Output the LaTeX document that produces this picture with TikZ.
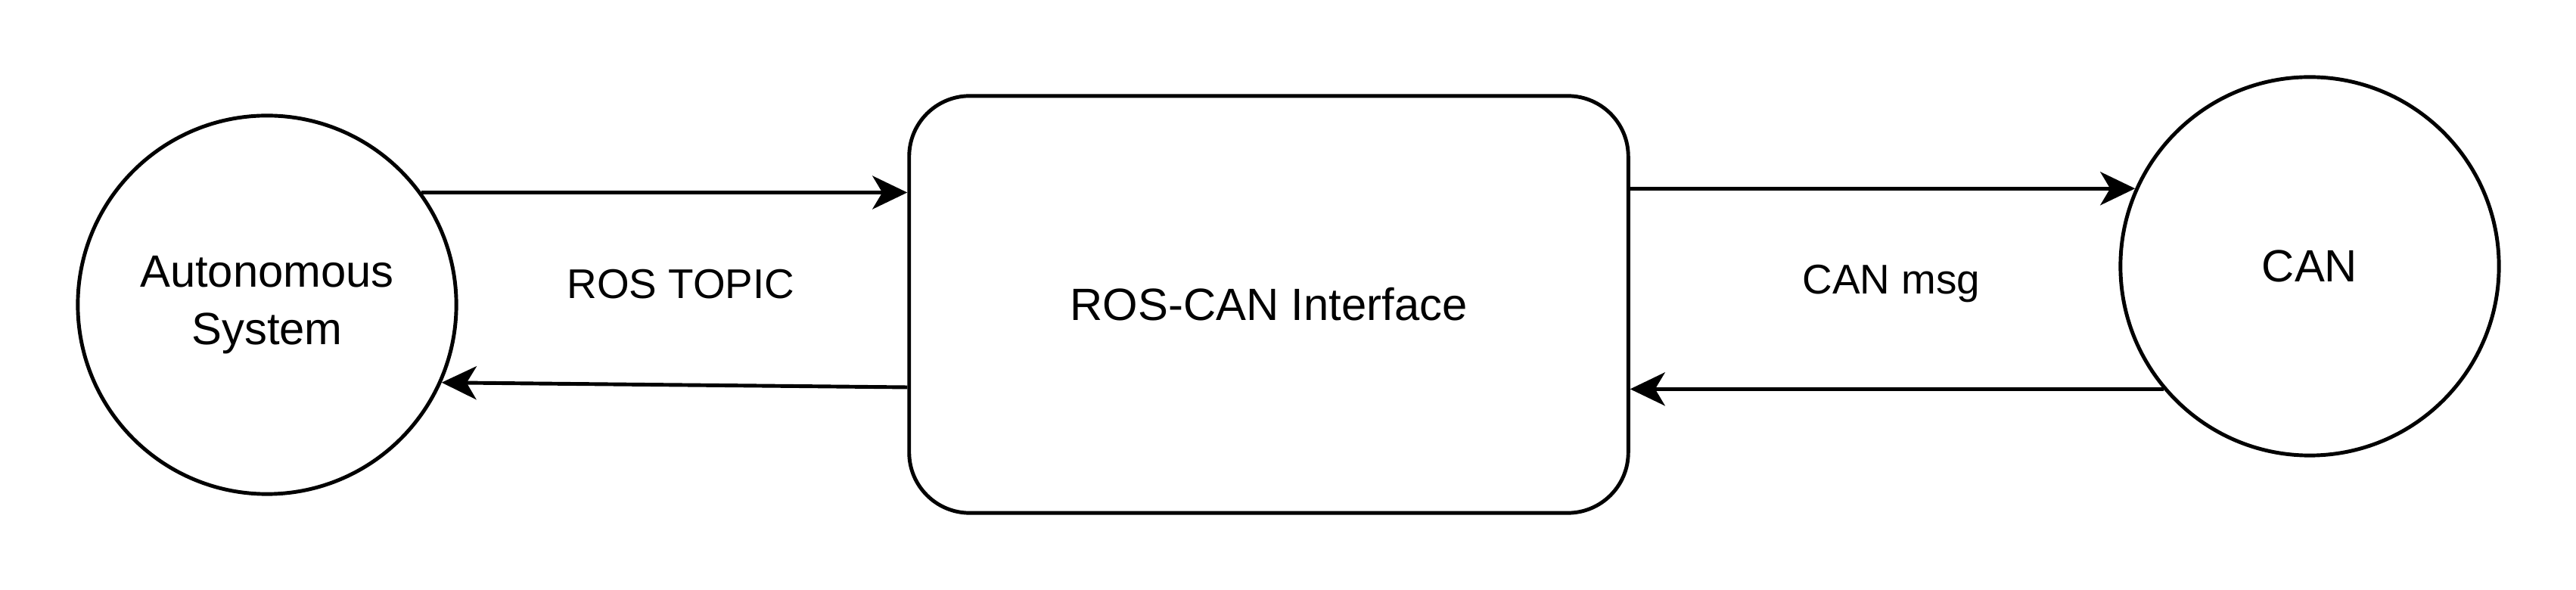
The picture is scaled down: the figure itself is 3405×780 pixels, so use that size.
\documentclass[tikz,border=0pt]{standalone}
\usepackage{fontspec}
\setmainfont{Liberation Sans}
\usetikzlibrary{arrows.meta}
\begin{document}
\begin{tikzpicture}[x=0.01cm,y=-0.01cm,
  every node/.style={font=\fontsize{17pt}{21.5pt}\selectfont},
  ring/.style={draw,line width=1.4pt,circle,minimum size=5cm,inner sep=0pt,align=center},
  box/.style={draw,line width=1.4pt,rectangle,rounded corners=0.8cm,minimum width=9.5cm,minimum height=5.51cm,inner sep=0pt},
  arr/.style={line width=1.4pt,-{Stealth[length=0.46cm,width=0.44cm,inset=0.13cm]}},
  lbl/.style={inner sep=0pt,font=\fontsize{15.6pt}{19pt}\selectfont}]
\useasboundingbox (0,0) rectangle (3405,780);
\node[ring] (A) at (353,403) {Autonomous\\System};
\node[box] (R) at (1677,402.5) {ROS-CAN Interface};
\node[ring] (C) at (3053,352) {CAN};
\node[lbl] (t1) at (900,376) {ROS TOPIC};
\node[lbl] (t2) at (2500,375) {CAN msg};
\coordinate (p1) at (1202,512);
\draw[arr] (A.36.87) -- (A.36.87 -| R.west);
\draw[arr] (R.west |- p1) -- (A.-24.8);
\draw[arr] (C.156.4 -| R.east) -- (C.156.4);
\draw[arr] (C.220.7) -- (C.220.7 -| R.east);
\end{tikzpicture}
\end{document}
